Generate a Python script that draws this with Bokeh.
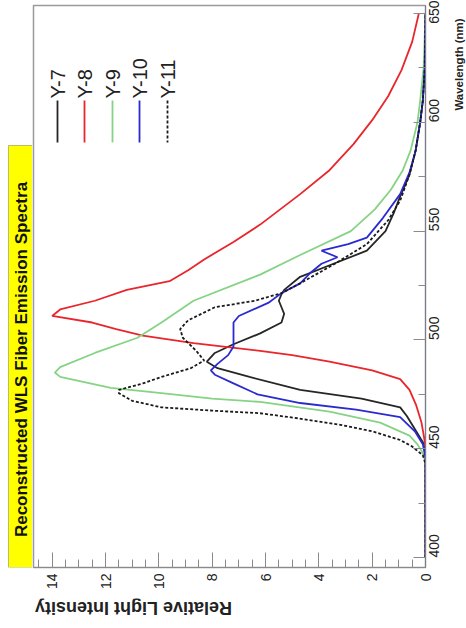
from math import pi

from bokeh.embed import file_html
from bokeh.layouts import column, row
from bokeh.models import BoxAnnotation, Label, Range1d, SingleIntervalTicker
from bokeh.plotting import figure
from bokeh.resources import INLINE

# Emission spectra: wavelength (nm) and relative light intensity for each fiber
y7_wl = [400, 445, 452, 458, 465, 469, 473, 477, 483, 487, 490, 494, 498, 503, 508, 512, 515, 518, 521, 523, 529, 535, 541, 550, 558, 566, 576, 587, 600, 610, 625, 650]
y7_int = [0.0, 0.0, 0.05, 0.35, 0.7, 0.95, 2.4, 4.7, 6.6, 7.8, 8.2, 7.9, 7.2, 6.2, 5.4, 5.3, 5.4, 5.5, 5.4, 5.3, 4.7, 3.45, 2.2, 1.5, 1.2, 0.95, 0.6, 0.37, 0.2, 0.1, 0.03, 0.0]

y8_wl = [400, 450, 455, 462, 470, 477, 482, 486, 490, 493, 495, 498.5, 502, 505, 508, 511, 514, 518, 523, 527, 532, 537, 545, 553, 567, 578, 590, 601, 612, 624, 637, 650]
y8_int = [0.0, 0.0, 0.05, 0.15, 0.35, 0.6, 0.95, 2.0, 3.6, 5.0, 6.2, 8.7, 10.6, 11.6, 12.5, 14.0, 13.7, 12.4, 11.2, 9.6, 8.9, 8.3, 7.2, 6.2, 4.7, 3.6, 2.7, 2.0, 1.4, 0.9, 0.5, 0.25]

y9_wl = [400, 444, 448, 452, 456, 462, 467, 471.5, 473, 475.5, 478, 483, 485, 487.5, 494, 501, 508, 518, 530, 539, 550, 560, 569, 578, 587, 600, 610, 625, 650]
y9_int = [0.0, 0.0, 0.1, 0.3, 0.6, 1.7, 3.6, 6.2, 8.0, 9.9, 11.8, 13.7, 13.9, 13.7, 12.4, 10.8, 9.9, 8.7, 6.2, 4.7, 2.8, 1.9, 1.3, 0.85, 0.56, 0.3, 0.2, 0.07, 0.0]

y10_wl = [400, 446, 452, 458, 464.5, 468, 471, 475, 480, 484, 486, 489, 493, 497, 503, 508, 511, 517, 521.5, 526, 531, 535, 538, 541, 544, 547, 556, 567, 577, 587, 600, 610, 625, 650]
y10_int = [0.0, 0.0, 0.1, 0.4, 0.95, 2.6, 4.7, 6.3, 7.2, 7.9, 8.05, 7.8, 7.4, 7.2, 7.2, 7.2, 7.0, 5.9, 5.4, 4.7, 4.3, 3.9, 3.3, 3.9, 2.9, 2.2, 1.6, 0.95, 0.6, 0.37, 0.2, 0.1, 0.03, 0.0]

y11_wl = [400, 443, 447, 451, 454, 458, 461, 464, 466.3, 467.5, 469, 472, 475.5, 477, 480, 483, 487, 490.5, 495, 501, 505, 509, 515, 518, 521.5, 526, 535, 544, 555, 564, 576, 587, 600, 610, 625, 650]
y11_int = [0.0, 0.0, 0.1, 0.5, 0.95, 2.0, 3.2, 4.8, 6.2, 8.0, 9.9, 11.0, 11.5, 11.5, 10.6, 9.9, 8.8, 8.3, 8.6, 9.1, 9.2, 8.9, 7.9, 6.4, 5.4, 4.7, 3.4, 2.2, 1.4, 0.95, 0.6, 0.37, 0.2, 0.1, 0.03, 0.0]

series_names = ["Y-7", "Y-8", "Y-9", "Y-10", "Y-11"]
series_colors = ["#262626", "#e8262c", "#86d386", "#2a2ad0", "#1a1a1a"]
series_dashes = ["solid", "solid", "solid", "solid", "3 2"]
series_data = [(y7_wl, y7_int), (y8_wl, y8_int), (y9_wl, y9_int), (y10_wl, y10_int), (y11_wl, y11_int)]

title_text = "Reconstructed WLS Fiber Emission Spectra"
wl_label = "Wavelength (nm)"
int_label = "Relative Light Intensity"

font = "Liberation Sans"

# Page pieces: title strip | main plot | wavelength-label strip, with the intensity label underneath
W, H = 466, 628
LEFT_W, RIGHT_W, BOTTOM_H = 32, 16, 30
MAIN_W, MAIN_H = W - LEFT_W - RIGHT_W, H - BOTTOM_H

# Intensity runs right-to-left along the bottom, wavelength bottom-to-top on the right
INT_MAX, INT_MIN = 14.7, 0.0
WL_MIN, WL_MAX = 395.4, 653.7
BL, BR, BT, BB = 1, 25, 5, 31
FRAME_W = MAIN_W - BL - BR
FRAME_H = MAIN_H - BT - BB

wl_range = Range1d(WL_MIN, WL_MAX)


def px_to_int(px):
    return INT_MAX - (px - LEFT_W - BL) / FRAME_W * (INT_MAX - INT_MIN)


def px_to_wl(py):
    return WL_MAX - (py - BT) / FRAME_H * (WL_MAX - WL_MIN)


def strip(w, h, y_range):
    f = figure(width=w, height=h, x_range=Range1d(0, w), y_range=y_range,
               x_axis_type=None, y_axis_type=None, min_border=0,
               output_backend="svg", toolbar_location=None)
    f.grid.visible = False
    f.outline_line_color = None
    f.background_fill_color = "white"
    f.border_fill_color = "white"
    return f


p = figure(
    width=MAIN_W, height=MAIN_H,
    x_range=Range1d(INT_MAX, INT_MIN), y_range=wl_range,
    y_axis_location="right",
    output_backend="svg", toolbar_location=None,
    min_border_left=BL, min_border_right=BR, min_border_top=BT, min_border_bottom=BB,
)
p.grid.visible = False
p.outline_line_color = "#9a9a9a"
p.outline_line_width = 1.5
p.background_fill_color = "white"
p.border_fill_color = "white"

xa = p.xaxis[0]
xa.ticker = SingleIntervalTicker(interval=2, num_minor_ticks=4)
xa.major_label_orientation = pi / 2
xa.major_tick_in, xa.major_tick_out = 15, 0
xa.minor_tick_in, xa.minor_tick_out = 8, 0
xa.major_label_standoff = 6
xa.major_label_text_font = font
xa.major_label_text_font_size = "14px"
xa.major_label_text_color = "#222222"
xa.axis_line_color = "#8a8a8a"
xa.major_tick_line_color = "#8a8a8a"
xa.minor_tick_line_color = "#8a8a8a"

ya = p.yaxis[0]
ya.ticker = SingleIntervalTicker(interval=50, num_minor_ticks=2)
ya.major_label_orientation = pi / 2
ya.major_tick_in, ya.major_tick_out = 12, 0
ya.minor_tick_in, ya.minor_tick_out = 7, 0
ya.major_label_standoff = 9
ya.major_label_text_font = font
ya.major_label_text_font_size = "14px"
ya.major_label_text_color = "#222222"
ya.axis_line_color = "#7a7a90"
ya.major_tick_line_color = "#8a8a8a"
ya.minor_tick_line_color = "#8a8a8a"

for (wl, inten), color, dash in zip(series_data, series_colors, series_dashes):
    p.line(x=inten, y=wl, line_color=color, line_width=1.8, line_dash=dash)

# Legend drawn vertically in the upper-left corner of the frame
legend_px = [57, 84, 112, 139, 167]
for name, color, dash, lx in zip(series_names, series_colors, series_dashes, legend_px):
    p.line(x=[px_to_int(lx), px_to_int(lx)], y=[px_to_wl(100), px_to_wl(142)],
           line_color=color, line_width=1.8, line_dash=dash)
    p.add_layout(Label(x=px_to_int(lx), y=px_to_wl(98), text=name, angle=pi / 2,
                       text_align="left", text_baseline="middle",
                       text_font=font, text_font_size="20px", text_color="#222222"))

# Title in a yellow box along the left edge (strip shares the wavelength scale)
left = strip(LEFT_W, MAIN_H, wl_range)
left.add_layout(BoxAnnotation(left=8, right=LEFT_W, top=px_to_wl(145), bottom=WL_MIN,
                              fill_color="#ffff00", fill_alpha=1.0,
                              line_color="#222222", line_width=1))
left.add_layout(Label(x=20.5, y=px_to_wl(359), text=title_text, angle=pi / 2,
                      text_align="center", text_baseline="middle", text_font=font,
                      text_font_style="bold", text_font_size="17px", text_color="#111111"))

# Wavelength axis title, at the long-wavelength end
right = strip(RIGHT_W, MAIN_H, wl_range)
right.add_layout(Label(x=8, y=px_to_wl(64), text=wl_label, angle=pi / 2,
                       text_align="center", text_baseline="middle", text_font=font,
                       text_font_style="bold", text_font_size="11.5px", text_color="#222222"))

# Intensity axis title, upside down at the high-intensity end
bottom = strip(W, BOTTOM_H, Range1d(BOTTOM_H, 0))
bottom.add_layout(Label(x=133, y=9, text=int_label, angle=pi,
                        text_align="center", text_baseline="middle", text_font=font,
                        text_font_style="bold", text_font_size="18px", text_color="#222222"))

page = column(row(left, p, right, spacing=0), bottom, spacing=0)
open("out.html", "w").write(file_html(page, INLINE))
